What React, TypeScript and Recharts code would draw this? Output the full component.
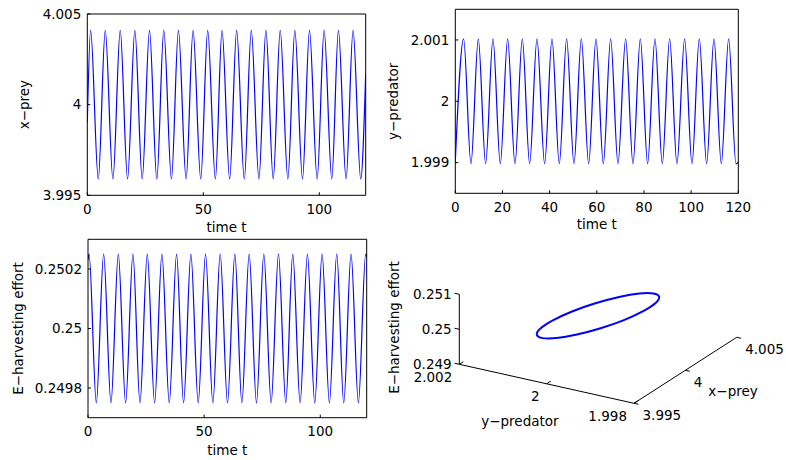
import { LineChart, Line, XAxis, YAxis, ReferenceLine, ReferenceDot } from 'recharts'

const FONT = 'DejaVu Sans, sans-serif'
const FS = 13.5
const BLUE = '#0000ff'

// x-prey over time: turning points
const preyT = [0, 1.43, 4.73, 7.74, 11.04, 14.19, 17.35, 20.5, 23.66, 26.81, 29.96, 32.97, 36.27, 39.28, 42.58, 45.59, 48.89, 51.9, 55.2, 58.06, 61.36, 64.37, 67.67, 70.68, 73.98, 76.99, 80.14, 83.15, 86.45, 89.46, 92.76, 95.77, 99.07, 102.08, 105.38, 108.24, 111.54, 114.55, 117.85, 120]
const preyX = [3.999, 4.0041, 3.9959, 4.0041, 3.9959, 4.0041, 3.9959, 4.0041, 3.9959, 4.0041, 3.9959, 4.0041, 3.9959, 4.0041, 3.9959, 4.0041, 3.9959, 4.0041, 3.9959, 4.0041, 3.9959, 4.0041, 3.9959, 4.0041, 3.9959, 4.0041, 3.9959, 4.0041, 3.9959, 4.0041, 3.9959, 4.0041, 3.9959, 4.0041, 3.9959, 4.0041, 3.9959, 4.0041, 3.9959, 4.0017]
const preyTicks = [3.995, 4, 4.005]

// y-predator over time
const predT = [0, 3.53, 6.64, 9.75, 12.86, 15.97, 19.08, 22.19, 25.3, 28.41, 31.52, 34.63, 37.88, 40.99, 44.1, 47.21, 50.32, 53.43, 56.54, 59.65, 62.76, 65.87, 68.98, 72.23, 75.34, 78.45, 81.55, 84.66, 87.77, 90.88, 93.99, 97.24, 100.35, 103.46, 106.57, 109.68, 112.79, 115.9, 119.01, 120]
const predY = [1.99902, 2.00102, 1.99898, 2.00102, 1.99898, 2.00102, 1.99898, 2.00102, 1.99898, 2.00102, 1.99898, 2.00102, 1.99898, 2.00102, 1.99898, 2.00102, 1.99898, 2.00102, 1.99898, 2.00102, 1.99898, 2.00102, 1.99898, 2.00102, 1.99898, 2.00102, 1.99898, 2.00102, 1.99898, 2.00102, 1.99898, 2.00102, 1.99898, 2.00102, 1.99898, 2.00102, 1.99898, 2.00102, 1.99898, 1.99901]
const predTicks = [1.999, 2, 2.001]

// E-harvesting effort over time
const effT = [0, 0.45, 3.58, 6.74, 9.89, 13.05, 16.2, 19.35, 22.37, 25.52, 28.67, 31.83, 34.98, 38.14, 41.15, 44.3, 47.46, 50.61, 53.76, 56.92, 60.07, 63.23, 66.24, 69.39, 72.54, 75.7, 78.85, 82.01, 85.16, 88.17, 91.33, 94.48, 97.63, 100.79, 103.94, 107.1, 110.11, 113.26, 116.42, 119.57, 120]
const effE = [0.25023, 0.25025, 0.24975, 0.25025, 0.24975, 0.25025, 0.24975, 0.25025, 0.24975, 0.25025, 0.24975, 0.25025, 0.24975, 0.25025, 0.24975, 0.25025, 0.24975, 0.25025, 0.24975, 0.25025, 0.24975, 0.25025, 0.24975, 0.25025, 0.24975, 0.25025, 0.24975, 0.25025, 0.24975, 0.25025, 0.24975, 0.25025, 0.24975, 0.25025, 0.24975, 0.25025, 0.24975, 0.25025, 0.24975, 0.25025, 0.25024]
const effTicks = [0.2498, 0.25, 0.2502]

const timeTicksWide = [0, 50, 100]
const timeTicksFine = [0, 20, 40, 60, 80, 100, 120]

// one loop of the limit cycle (x-prey, y-predator, E)
const cycleX = [4.00377, 4.00257, 4.00098, 3.99924, 3.99762, 3.99636, 3.99565, 3.99561, 3.99623, 3.99743, 3.99902, 4.00076, 4.00238, 4.00364, 4.00435, 4.00439]
const cycleY = [1.99945, 1.99925, 1.99917, 1.99921, 1.99938, 1.99964, 1.99995, 2.00027, 2.00055, 2.00075, 2.00083, 2.00079, 2.00062, 2.00036, 2.00005, 1.99973]
const cycleE = [0.25, 0.250098, 0.250181, 0.250237, 0.250256, 0.250237, 0.250181, 0.250098, 0.25, 0.249902, 0.249819, 0.249763, 0.249744, 0.249763, 0.249819, 0.249902]

const boxX = [3.995, 4.005]
const boxY = [1.998, 2.002]
const boxE = [0.249, 0.251]
const ticks3dX = [3.995, 4, 4.005]
const ticks3dY = [2.002, 2, 1.998]
const ticks3dE = [0.249, 0.25, 0.251]

const zip = (t: number[], v: number[]) => t.map((tt, i) => ({ t: tt, v: v[i] }))

const tickStyle = { fill: '#000', fontSize: FS, fontFamily: FONT }
const axisStroke = { stroke: '#000', strokeWidth: 1 }

interface TimePanelProps {
  left: number
  top: number
  width: number
  height: number
  // plot box edges inside the panel
  box: { top: number; right: number; bottom: number; left: number }
  data: { t: number; v: number }[]
  yDomain: [number, number]
  yTicks: number[]
  xTicks: number[]
  yTitle: string
  yTitleOffset: number
  xTitleOffset: number
}

// every axis takes 1px, so margins are the box edges minus that
function TimePanel(p: TimePanelProps) {
  const fmt = (v: number) => String(v)
  const margin = {
    top: p.box.top - 1,
    left: p.box.left - 1,
    right: p.width - p.box.right - 1,
    bottom: p.height - p.box.bottom - 1,
  }
  return (
    <div style={{ position: 'absolute', left: p.left, top: p.top }}>
      <LineChart width={p.width} height={p.height} data={p.data} margin={margin}>
        <XAxis
          type="number"
          dataKey="t"
          domain={[0, 120]}
          ticks={p.xTicks}
          interval={0}
          allowDataOverflow
          height={1}
          tickSize={-3}
          tickMargin={12}
          axisLine={axisStroke}
          tickLine={axisStroke}
          tick={tickStyle}
          tickFormatter={fmt}
          label={{ value: 'time t', position: 'bottom', offset: p.xTitleOffset - 1, fill: '#000', fontSize: FS, fontFamily: FONT }}
        />
        <XAxis
          xAxisId="top"
          orientation="top"
          type="number"
          domain={[0, 120]}
          ticks={p.xTicks}
          interval={0}
          allowDataOverflow
          height={1}
          tickSize={-3}
          axisLine={axisStroke}
          tickLine={axisStroke}
          tick={false}
        />
        <YAxis
          type="number"
          domain={p.yDomain}
          ticks={p.yTicks}
          interval={0}
          allowDataOverflow
          width={1}
          tickSize={-3}
          tickMargin={9}
          axisLine={axisStroke}
          tickLine={axisStroke}
          tick={tickStyle}
          tickFormatter={fmt}
          label={{
            value: p.yTitle,
            angle: -90,
            position: 'left',
            offset: p.yTitleOffset - 1,
            fill: '#000',
            fontSize: FS,
            fontFamily: FONT,
            style: { textAnchor: 'middle' },
          }}
        />
        <YAxis
          yAxisId="right"
          orientation="right"
          type="number"
          domain={p.yDomain}
          ticks={p.yTicks}
          interval={0}
          allowDataOverflow
          width={1}
          tickSize={-3}
          axisLine={axisStroke}
          tickLine={axisStroke}
          tick={false}
        />
        <Line
          dataKey="v"
          type="monotone"
          stroke={BLUE}
          strokeWidth={1.2}
          dot={false}
          isAnimationActive={false}
        />
      </LineChart>
    </div>
  )
}

// view of the 3-D box: screen position of the (min,min,min) corner and the
// screen vectors spanned by each full axis range, in panel pixels
const ORIGIN = [254, 173.3]
const VX = [102.7, -66]
const VY = [-174.7, -39]
const VE = [0, -70]

function project(x: number, y: number, e: number) {
  const nx = (x - boxX[0]) / (boxX[1] - boxX[0])
  const ny = (y - boxY[0]) / (boxY[1] - boxY[0])
  const ne = (e - boxE[0]) / (boxE[1] - boxE[0])
  return {
    u: ORIGIN[0] + nx * VX[0] + ny * VY[0] + ne * VE[0],
    v: ORIGIN[1] + nx * VX[1] + ny * VY[1] + ne * VE[1],
  }
}

type Seg = [{ u: number; v: number }, { u: number; v: number }]
type Lbl = { p: { u: number; v: number }; text: string; dx: number; dy: number; anchor: string; angle?: number }

function Panel3D() {
  const cycle = cycleX.map((x, i) => project(x, cycleY[i], cycleE[i]))

  const segs: Seg[] = [
    [project(boxX[0], boxY[1], boxE[0]), project(boxX[0], boxY[1], boxE[1])],
    [project(boxX[0], boxY[1], boxE[0]), project(boxX[0], boxY[0], boxE[0])],
    [project(boxX[0], boxY[0], boxE[0]), project(boxX[1], boxY[0], boxE[0])],
  ]
  ticks3dE.forEach(e => segs.push([project(boxX[0], boxY[1], e), project(boxX[0], boxY[1] + 0.00011, e)]))
  ticks3dY.forEach(y => segs.push([project(boxX[0], y, boxE[0]), project(boxX[0] + 0.0004, y, boxE[0])]))
  ticks3dX.forEach(x => segs.push([project(x, boxY[0], boxE[0]), project(x, boxY[0] - 0.0001, boxE[0])]))

  const labels: Lbl[] = [
    ...ticks3dE.map(e => ({ p: project(boxX[0], boxY[1], e), text: String(e), dx: -7.6, dy: 0, anchor: 'end' })),
    ...ticks3dY.map(y => ({ p: project(boxX[0], y, boxE[0]), text: String(y), dx: -7, dy: 12.5, anchor: 'end' })),
    ...ticks3dX.map(x => ({ p: project(x, boxY[0], boxE[0]), text: String(x), dx: 8.5, dy: 12, anchor: 'start' })),
    { p: project(boxX[0], 2, boxE[0]), text: 'y−predator', dx: -26.7, dy: 37.2, anchor: 'middle' },
    { p: project(4, boxY[0], boxE[0]), text: 'x−prey', dx: 47.7, dy: 21, anchor: 'middle' },
    { p: project(boxX[0], boxY[1], 0.25), text: 'E−harvesting effort', dx: -65.1, dy: -1.8, anchor: 'middle', angle: -90 },
  ]

  return (
    <div style={{ position: 'absolute', left: 380, top: 230 }}>
      <LineChart width={406} height={230} data={cycle} margin={{ top: 0, right: 0, bottom: 0, left: 0 }}>
        <XAxis type="number" dataKey="u" domain={[0, 406]} allowDataOverflow hide />
        <YAxis type="number" domain={[0, 230]} reversed allowDataOverflow hide />
        {segs.map((s, i) => (
          <ReferenceLine
            key={'s' + i}
            segment={[{ x: s[0].u, y: s[0].v }, { x: s[1].u, y: s[1].v }]}
            stroke="#000"
            strokeWidth={1}
            ifOverflow="visible"
          />
        ))}
        <Line
          dataKey="v"
          type="basisClosed"
          stroke={BLUE}
          strokeWidth={2}
          dot={false}
          isAnimationActive={false}
        />
        {labels.map((l, i) => (
          <ReferenceDot
            key={'l' + i}
            x={l.p.u}
            y={l.p.v}
            r={0}
            ifOverflow="visible"
            shape={(props: { cx: number; cy: number }) => {
              const x = props.cx + l.dx
              const y = props.cy + l.dy
              return (
                <text
                  x={x}
                  y={y}
                  dy="0.36em"
                  textAnchor={l.anchor}
                  fill="#000"
                  fontSize={FS}
                  fontFamily={FONT}
                  transform={l.angle ? `rotate(${l.angle}, ${x}, ${y})` : undefined}
                >
                  {l.text}
                </text>
              )
            }}
          />
        ))}
      </LineChart>
    </div>
  )
}

export default function App() {
  return (
    <div style={{ position: 'absolute', left: 0, top: 0, width: 786, height: 460, background: '#fff', fontFamily: FONT }}>
      <TimePanel
        left={0}
        top={0}
        width={380}
        height={240}
        box={{ top: 14, right: 365.7, bottom: 195.3, left: 87.3 }}
        data={zip(preyT, preyX)}
        yDomain={[3.995, 4.005]}
        yTicks={preyTicks}
        xTicks={timeTicksWide}
        yTitle="x−prey"
        yTitleOffset={62.8}
        xTitleOffset={27}
      />
      <TimePanel
        left={380}
        top={0}
        width={406}
        height={240}
        box={{ top: 9.3, right: 358.3, bottom: 193.3, left: 75.3 }}
        data={zip(predT, predY)}
        yDomain={[1.9985, 2.0015]}
        yTicks={predTicks}
        xTicks={timeTicksFine}
        yTitle="y−predator"
        yTitleOffset={61.8}
        xTitleOffset={26.4}
      />
      <TimePanel
        left={0}
        top={230}
        width={380}
        height={230}
        box={{ top: 9.3, right: 366.7, bottom: 187.7, left: 88 }}
        data={zip(effT, effE)}
        yDomain={[0.2497, 0.2503]}
        yTicks={effTicks}
        xTicks={timeTicksWide}
        yTitle="E−harvesting effort"
        yTitleOffset={70}
        xTitleOffset={28}
      />
      <Panel3D />
    </div>
  )
}
